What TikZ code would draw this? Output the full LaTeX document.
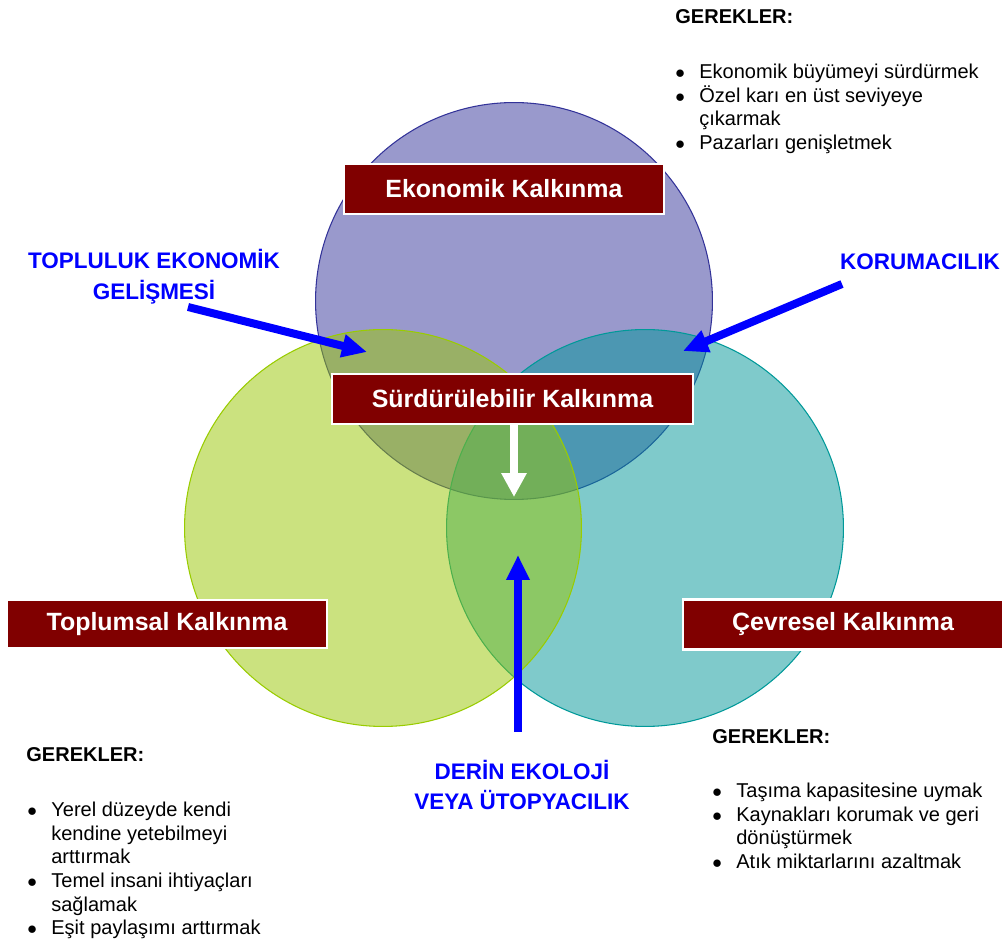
\documentclass[tikz,border=0pt]{standalone}
\usepackage{fontspec}
\setmainfont{Liberation Sans}
\usetikzlibrary{arrows.meta}

\definecolor{EkoFill}{RGB}{153,153,204}
\definecolor{EkoLine}{RGB}{51,51,153}
\definecolor{CevFill}{RGB}{1,151,153}
\definecolor{CevLine}{RGB}{0,153,153}
\definecolor{TopFill}{RGB}{153,199,1}
\definecolor{TopLine}{RGB}{153,204,0}
\definecolor{BoxRed}{RGB}{128,0,0}

\newcommand{\Madde}{\makebox[0.48cm][l]{$\bullet$}}
\newcommand{\Bos}{\hspace*{0.48cm}}

\begin{document}
\begin{tikzpicture}[
        %Environment Config (1 unit = 1 px of the page)
        x=0.02cm, y=-0.02cm,
        KutuBox/.style={%Style for the red title boxes
            draw=white,
            line width=1.5pt,
            fill=BoxRed,
            text=white,
            font=\fontsize{14.2}{17}\selectfont\bfseries,
            minimum width=6.4cm,
            minimum height=1cm,
            inner sep=0pt
        },
        MaviYazi/.style={%Style for the blue labels
            text=blue,
            align=center,
            font=\fontsize{12.8}{17.6}\selectfont\bfseries
        },
        MaviOk/.style={%Style for the blue arrows
            -{Triangle[length=0.5cm,width=0.44cm]},
            blue,
            line width=0.16cm
        },
        BeyazOk/.style={%Style for the white arrow
            -{Triangle[length=0.48cm,width=0.48cm]},
            white,
            line width=0.15cm
        },
        Baslik/.style={%Style for GEREKLER
            anchor=west,
            inner sep=0pt,
            font=\fontsize{11.4}{13.4}\selectfont\bfseries
        },
        Liste/.style={%Style for the bullet lists
            anchor=north west,
            inner sep=0pt,
            align=left,
            font=\fontsize{11.4}{13.4}\selectfont
        }
    ]
    \fill[white] (0,0) rectangle (1005,942);
    \useasboundingbox (0,0) rectangle (1005,942);

    %%%%%%%%%%%%%%%%%%%%%%%%%%%%%%%%%%%%%%%%%%%%%%%%%%%%%%%%%%%%%%%%%%%%%%%%%%%%
    % CIRCLES
    %%%%%%%%%%%%%%%%%%%%%%%%%%%%%%%%%%%%%%%%%%%%%%%%%%%%%%%%%%%%%%%%%%%%%%%%%%%%
    \draw[fill=EkoFill, draw=EkoLine, line width=0.6pt] (514,301) circle[radius=3.97cm];
    \draw[fill=CevFill, fill opacity=0.5, draw=CevLine, line width=0.6pt] (645,528) circle[radius=3.97cm];
    \draw[fill=TopFill, fill opacity=0.5, draw=TopLine, line width=0.6pt] (383,528) circle[radius=3.97cm];

    %%%%%%%%%%%%%%%%%%%%%%%%%%%%%%%%%%%%%%%%%%%%%%%%%%%%%%%%%%%%%%%%%%%%%%%%%%%%
    % TITLE BOXES
    %%%%%%%%%%%%%%%%%%%%%%%%%%%%%%%%%%%%%%%%%%%%%%%%%%%%%%%%%%%%%%%%%%%%%%%%%%%%
    \node[KutuBox] (ekon) at (504,189) {Ekonomik Kalkınma};
    \node[KutuBox, minimum width=7.22cm] (surd) at (512.5,399) {Sürdürülebilir Kalkınma};
    \node[KutuBox, minimum height=0.96cm] (topl) at (167,624) {Toplumsal Kalkınma};
    \node[KutuBox] (cevr) at (843,624.5) {Çevresel Kalkınma};

    %%%%%%%%%%%%%%%%%%%%%%%%%%%%%%%%%%%%%%%%%%%%%%%%%%%%%%%%%%%%%%%%%%%%%%%%%%%%
    % BLUE LABELS AND ARROWS
    %%%%%%%%%%%%%%%%%%%%%%%%%%%%%%%%%%%%%%%%%%%%%%%%%%%%%%%%%%%%%%%%%%%%%%%%%%%%
    \node[MaviYazi] (topluluk) at (154,277) {TOPLULUK EKONOMİK\\GELİŞMESİ};
    \node[MaviYazi] (koruma) at (920,262) {KORUMACILIK};
    \node[MaviYazi] (derin) at (522,785) {DERİN EKOLOJİ\\VEYA ÜTOPYACILIK};

    \coordinate (tgTail) at (188,307);
    \coordinate (tgTip) at (367,352);
    \coordinate (kmTail) at (842,284);
    \coordinate (kmTip) at (683,351);
    \coordinate (deTail) at (518,732);
    \coordinate (deTip) at (518,555);
    \coordinate (skTip) at (514,497);

    \draw[MaviOk] (tgTail) -- (tgTip);
    \draw[MaviOk] (kmTail) -- (kmTip);
    \draw[MaviOk] (deTail) -- (deTip);
    \draw[BeyazOk] (surd.south -| skTip) -- (skTip);

    %%%%%%%%%%%%%%%%%%%%%%%%%%%%%%%%%%%%%%%%%%%%%%%%%%%%%%%%%%%%%%%%%%%%%%%%%%%%
    % REQUIREMENT LISTS
    %%%%%%%%%%%%%%%%%%%%%%%%%%%%%%%%%%%%%%%%%%%%%%%%%%%%%%%%%%%%%%%%%%%%%%%%%%%%
    % economic
    \node[Baslik] (gerekE) at (675,17) {GEREKLER:};
    \node[Liste] (listeE) at (675,64) {%
        \Madde Ekonomik büyümeyi sürdürmek\\
        \Madde Özel karı en üst seviyeye\\
        \Bos çıkarmak\\
        \Madde Pazarları genişletmek};
    % social
    \node[Baslik] (gerekT) at (26,755) {GEREKLER:};
    \node[Liste] (listeT) at (27,802) {%
        \Madde Yerel düzeyde kendi\\
        \Bos kendine yetebilmeyi\\
        \Bos arttırmak\\
        \Madde Temel insani ihtiyaçları\\
        \Bos sağlamak\\
        \Madde Eşit paylaşımı arttırmak};
    % environmental
    \node[Baslik] (gerekC) at (712,737) {GEREKLER:};
    \node[Liste] (listeC) at (712,783) {%
        \Madde Taşıma kapasitesine uymak\\
        \Madde Kaynakları korumak ve geri\\
        \Bos dönüştürmek\\
        \Madde Atık miktarlarını azaltmak};
\end{tikzpicture}
\end{document}
